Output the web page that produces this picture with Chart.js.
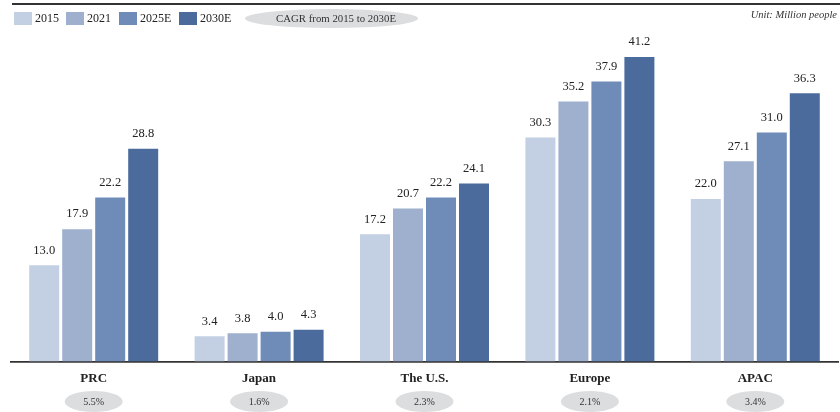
<!DOCTYPE html>
<html>
<head>
<meta charset="utf-8">
<style>
html,body{margin:0;padding:0;background:#fff;}
#wrap{width:840px;height:412px;position:relative;}
</style>
<script src="https://cdn.jsdelivr.net/npm/chart.js@4/dist/chart.umd.min.js"></script>
</head>
<body>
<div id="wrap"><canvas id="c" width="840" height="412"></canvas></div>
<script>
const categories = ["PRC", "Japan", "The U.S.", "Europe", "APAC"];
const seriesLabels = ["2015", "2021", "2025E", "2030E"];
const v2015 = [13.0, 3.4, 17.2, 30.3, 22.0];
const v2021 = [17.9, 3.8, 20.7, 35.2, 27.1];
const v2025 = [22.2, 4.0, 22.2, 37.9, 31.0];
const v2030 = [28.8, 4.3, 24.1, 41.2, 36.3];
const cagr = ["5.5%", "1.6%", "2.3%", "2.1%", "3.4%"];
const colors = ["#C3CFE2", "#9EB0CE", "#6F8BB7", "#4A6B9C"];
const unitText = "Unit: Million people";
const cagrLegend = "CAGR from 2015 to 2030E";

const SERIF = "'Liberation Serif', 'Times New Roman', serif";
const allSeries = [v2015, v2021, v2025, v2030];
const legendBoxX = [14, 66, 119, 179];

const decor = {
  id: 'decor',
  afterDatasetsDraw(chart) {
    const ctx = chart.ctx;
    const xs = chart.scales.x;
    ctx.save();
    // value labels
    ctx.fillStyle = '#222';
    ctx.font = '12.5px ' + SERIF;
    ctx.textAlign = 'center';
    ctx.textBaseline = 'middle';
    chart.data.datasets.forEach((ds, di) => {
      const meta = chart.getDatasetMeta(di);
      meta.data.forEach((bar, i) => {
        ctx.fillText(ds.data[i].toFixed(1), bar.x, bar.y - 15);
      });
    });
    // top rule
    ctx.strokeStyle = '#333';
    ctx.lineWidth = 1.8;
    ctx.beginPath();
    ctx.moveTo(12, 4);
    ctx.lineTo(840, 4);
    ctx.stroke();
    // legend
    ctx.textAlign = 'left';
    ctx.font = '12px ' + SERIF;
    chart.data.datasets.forEach((ds, i) => {
      const x = legendBoxX[i];
      ctx.fillStyle = ds.backgroundColor;
      ctx.fillRect(x, 12, 18, 13);
      ctx.fillStyle = '#222';
      ctx.fillText(ds.label, x + 21, 19);
    });
    // CAGR legend ellipse
    ctx.fillStyle = '#DCDDDF';
    ctx.beginPath();
    ctx.ellipse(331.5, 18.5, 86.5, 9.5, 0, 0, Math.PI * 2);
    ctx.fill();
    ctx.fillStyle = '#333';
    ctx.textAlign = 'center';
    ctx.font = '10.8px ' + SERIF;
    ctx.fillText(cagrLegend, 336, 19);
    // unit
    ctx.textAlign = 'right';
    ctx.font = 'italic 10.5px ' + SERIF;
    ctx.fillStyle = '#333';
    ctx.fillText(unitText, 837, 15);
    // CAGR ellipses under categories
    categories.forEach((c, i) => {
      const cx = xs.getPixelForValue(i);
      ctx.fillStyle = '#DCDDDF';
      ctx.beginPath();
      ctx.ellipse(cx, 401.5, 29, 10.5, 0, 0, Math.PI * 2);
      ctx.fill();
      ctx.fillStyle = '#333';
      ctx.textAlign = 'center';
      ctx.font = '10px ' + SERIF;
      ctx.fillText(cagr[i], cx, 402.5);
    });
    ctx.restore();
  }
};

new Chart(document.getElementById('c'), {
  type: 'bar',
  data: {
    labels: categories,
    datasets: seriesLabels.map((l, i) => ({
      label: l,
      data: allSeries[i],
      backgroundColor: colors[i],
      borderWidth: 0,
      categoryPercentage: 0.798,
      barPercentage: 0.909
    }))
  },
  options: {
    responsive: false,
    animation: false,
    devicePixelRatio: 1,
    layout: { padding: { left: 11, right: 2, top: 29, bottom: 17 } },
    plugins: { legend: { display: false }, tooltip: { enabled: false } },
    scales: {
      y: { display: false, min: 0, max: 45 },
      x: {
        grid: { display: false, drawTicks: false, tickLength: 0 },
        border: { display: true, color: '#333', width: 1.8 },
        ticks: {
          padding: 9,
          color: '#222',
          font: { family: SERIF, size: 13, weight: 'bold' }
        }
      }
    }
  },
  plugins: [decor]
});
</script>
</body>
</html>
